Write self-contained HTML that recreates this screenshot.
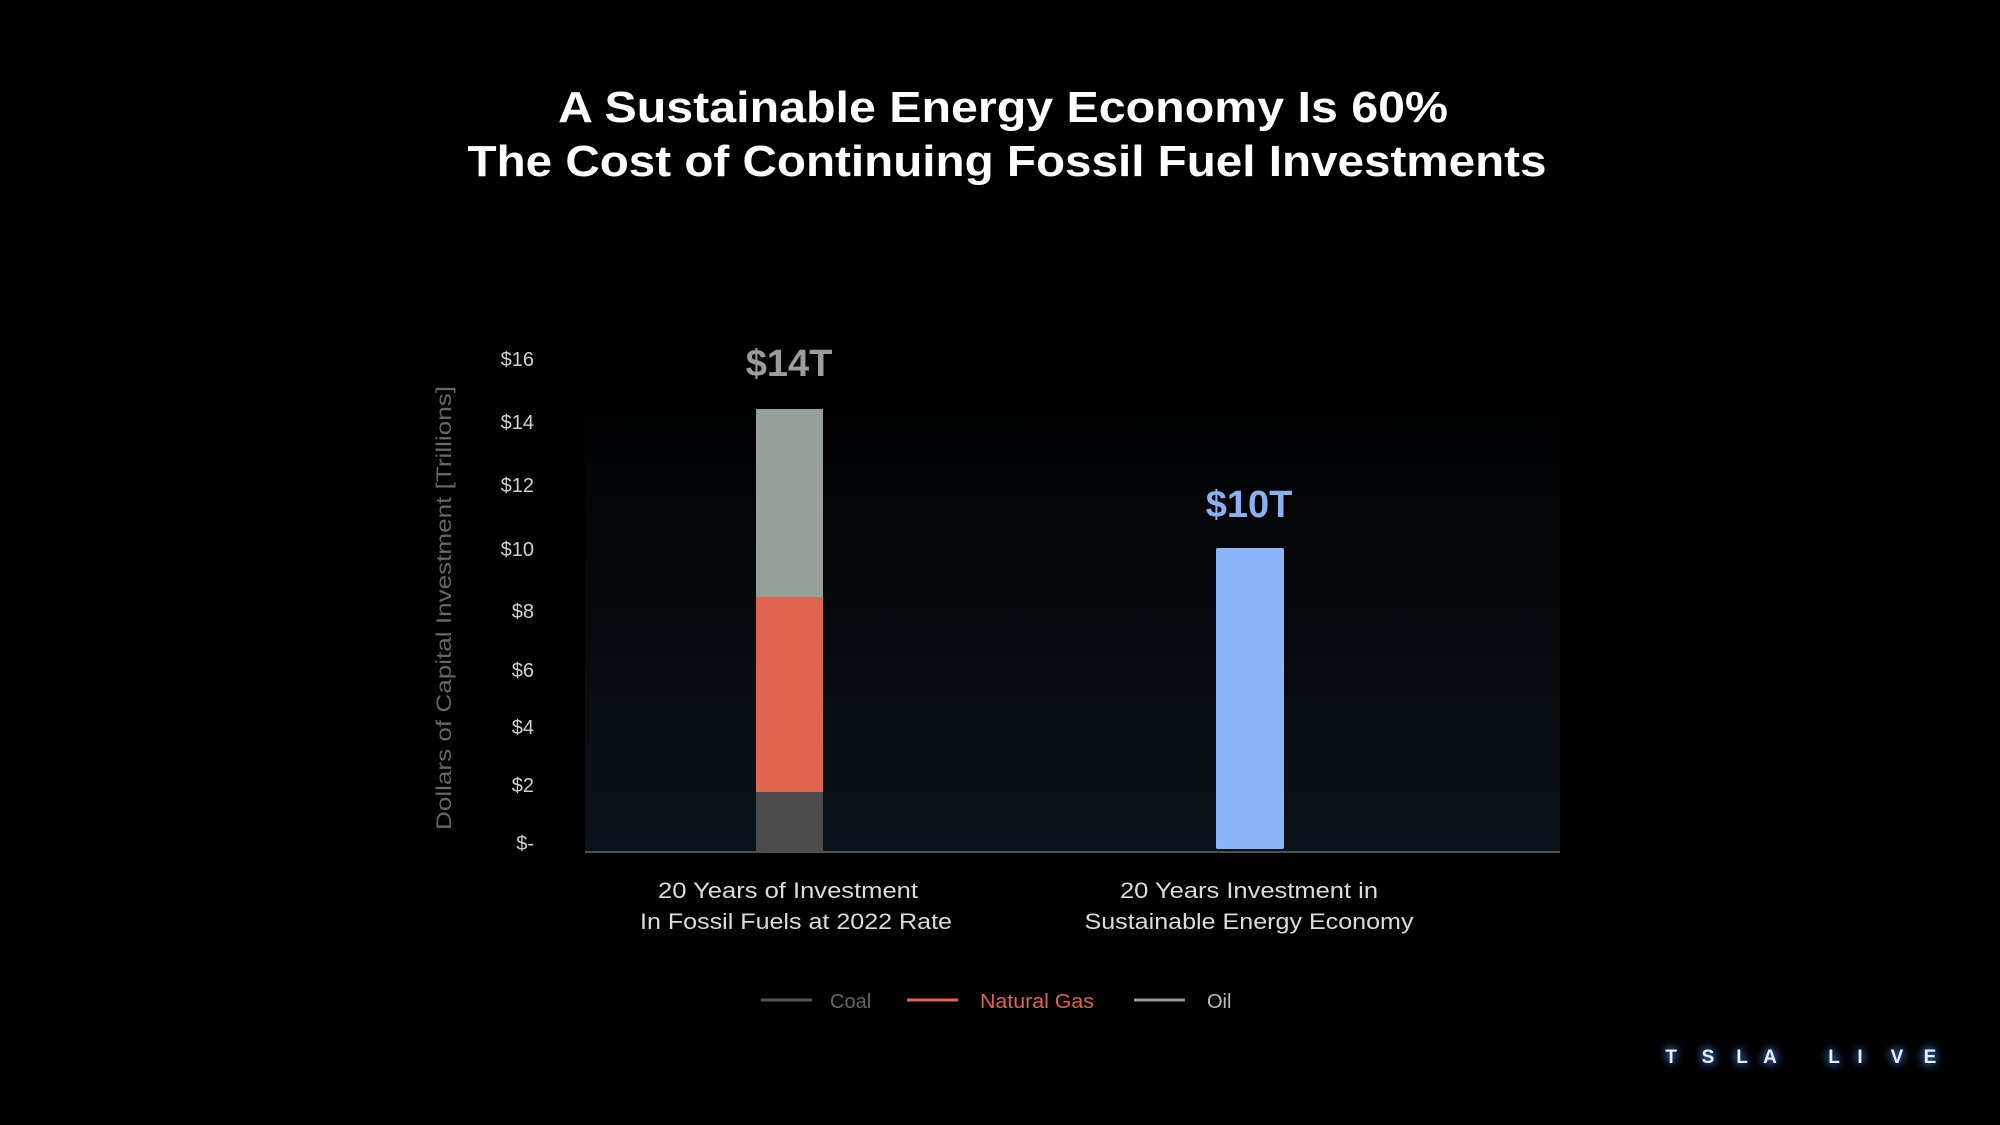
<!DOCTYPE html>
<html><head><meta charset="utf-8"><style>
html,body{margin:0;padding:0;background:#000;width:2000px;height:1125px;overflow:hidden}
svg{display:block}
text{font-family:"Liberation Sans",sans-serif}
</style></head><body>
<svg width="2000" height="1125" viewBox="0 0 2000 1125" xmlns="http://www.w3.org/2000/svg">
<defs>
<linearGradient id="bg" x1="0" y1="0" x2="0" y2="1">
<stop offset="0" stop-color="#000"/><stop offset="1" stop-color="#0c131a"/>
</linearGradient>
<filter id="glow" x="-100%" y="-100%" width="300%" height="300%">
<feGaussianBlur in="SourceAlpha" stdDeviation="5" result="b"/>
<feFlood flood-color="#4a7fd8"/>
<feComposite in2="b" operator="in" result="g"/>
<feMerge><feMergeNode in="g"/><feMergeNode in="g"/><feMergeNode in="SourceGraphic"/></feMerge>
</filter>
</defs>
<rect width="2000" height="1125" fill="#000"/>
<rect x="585" y="380" width="975" height="472" fill="url(#bg)"/>
<text x="1003" y="122" text-anchor="middle" font-size="44" font-weight="bold" fill="#fff" textLength="890" lengthAdjust="spacingAndGlyphs">A Sustainable Energy Economy Is 60%</text>
<text x="1007" y="176" text-anchor="middle" font-size="44" font-weight="bold" fill="#fff" textLength="1079" lengthAdjust="spacingAndGlyphs">The Cost of Continuing Fossil Fuel Investments</text>
<g font-size="20" fill="#d0d0d0" text-anchor="end">
<text x="534" y="366">$16</text><text x="534" y="429">$14</text><text x="534" y="492">$12</text>
<text x="534" y="556">$10</text><text x="534" y="618">$8</text><text x="534" y="677">$6</text>
<text x="534" y="734">$4</text><text x="534" y="792">$2</text><text x="534" y="850">$-</text>
</g>
<text transform="translate(451,608) rotate(-90)" text-anchor="middle" font-size="21" fill="#666" textLength="444" lengthAdjust="spacingAndGlyphs">Dollars of Capital Investment [Trillions]</text>
<rect x="756" y="409" width="67" height="188" fill="#969f9a"/>
<rect x="756" y="597" width="67" height="195" fill="#e06550"/>
<rect x="756" y="792" width="67" height="60" fill="#4a4b4a"/>
<rect x="1216" y="548" width="68" height="301" rx="2" fill="#8cb4f8"/>
<line x1="585" y1="852" x2="1560" y2="852" stroke="#4a5055" stroke-width="2"/>
<text x="789" y="376" text-anchor="middle" font-size="38" font-weight="bold" fill="#9c9c9c">$14T</text>
<text x="1249" y="517" text-anchor="middle" font-size="38" font-weight="bold" fill="#8cb0f0">$10T</text>
<g font-size="22" fill="#dcdcdc" text-anchor="middle">
<text x="788" y="898" textLength="260" lengthAdjust="spacingAndGlyphs">20 Years of Investment</text>
<text x="796" y="929" textLength="312" lengthAdjust="spacingAndGlyphs">In Fossil Fuels at 2022 Rate</text>
<text x="1249" y="898" textLength="258" lengthAdjust="spacingAndGlyphs">20 Years Investment in</text>
<text x="1249" y="929" textLength="329" lengthAdjust="spacingAndGlyphs">Sustainable Energy Economy</text>
</g>
<line x1="761" y1="1000" x2="812" y2="1000" stroke="#555" stroke-width="3"/>
<text x="830" y="1008" font-size="20" fill="#666">Coal</text>
<line x1="907" y1="1000" x2="958" y2="1000" stroke="#e06550" stroke-width="3"/>
<text x="980" y="1008" font-size="20" fill="#e06550" textLength="114" lengthAdjust="spacingAndGlyphs">Natural Gas</text>
<line x1="1134" y1="1000" x2="1185" y2="1000" stroke="#999" stroke-width="3"/>
<text x="1207" y="1008" font-size="20" fill="#bbb">Oil</text>
<g font-size="19" font-weight="bold" fill="#e4eeff" filter="url(#glow)" text-anchor="middle">
<text x="1671" y="1063">T</text><text x="1708" y="1063">S</text><text x="1742" y="1063">L</text><text x="1770" y="1063">A</text>
<text x="1834" y="1063">L</text><text x="1860" y="1063">I</text><text x="1897" y="1063">V</text><text x="1930" y="1063">E</text>
</g>
</svg>
</body></html>
